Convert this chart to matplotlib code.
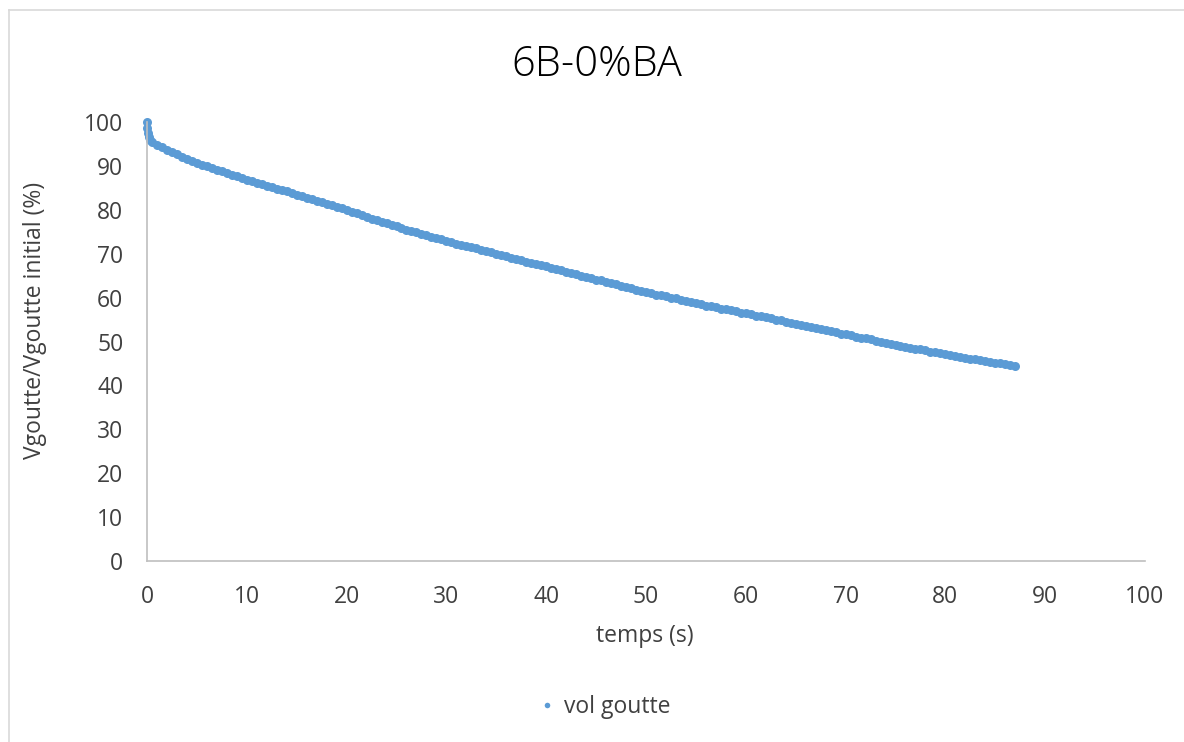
import matplotlib
matplotlib.use("Agg")
import matplotlib.pyplot as plt
from matplotlib.lines import Line2D

title = "6B-0%BA"
x_label = "temps (s)"
y_label = "Vgoutte/Vgoutte initial (%)"
series_name = "vol goutte"

time_s = [0, 0.05, 0.1, 0.2, 0.3,
          0.5, 1.0, 1.5, 2.0, 2.5, 3.0, 3.5, 4.0, 4.5, 5.0, 5.5, 6.0, 6.5, 7.0, 7.5, 8.0,
          8.5, 9.0, 9.5, 10.0, 10.5, 11.0, 11.5, 12.0, 12.5, 13.0, 13.5, 14.0, 14.5, 15.0,
          15.5, 16.0, 16.5, 17.0, 17.5, 18.0, 18.5, 19.0, 19.5, 20.0, 20.5, 21.0, 21.5, 22.0,
          22.5, 23.0, 23.5, 24.0, 24.5, 25.0, 25.5, 26.0, 26.5, 27.0, 27.5, 28.0, 28.5, 29.0,
          29.5, 30.0, 30.5, 31.0, 31.5, 32.0, 32.5, 33.0, 33.5, 34.0, 34.5, 35.0, 35.5, 36.0,
          36.5, 37.0, 37.5, 38.0, 38.5, 39.0, 39.5, 40.0, 40.5, 41.0, 41.5, 42.0, 42.5, 43.0,
          43.5, 44.0, 44.5, 45.0, 45.5, 46.0, 46.5, 47.0, 47.5, 48.0, 48.5, 49.0, 49.5, 50.0,
          50.5, 51.0, 51.5, 52.0, 52.5, 53.0, 53.5, 54.0, 54.5, 55.0, 55.5, 56.0, 56.5, 57.0,
          57.5, 58.0, 58.5, 59.0, 59.5, 60.0, 60.5, 61.0, 61.5, 62.0, 62.5, 63.0, 63.5, 64.0,
          64.5, 65.0, 65.5, 66.0, 66.5, 67.0, 67.5, 68.0, 68.5, 69.0, 69.5, 70.0, 70.5, 71.0,
          71.5, 72.0, 72.5, 73.0, 73.5, 74.0, 74.5, 75.0, 75.5, 76.0, 76.5, 77.0, 77.5, 78.0,
          78.5, 79.0, 79.5, 80.0, 80.5, 81.0, 81.5, 82.0, 82.5, 83.0, 83.5, 84.0, 84.5, 85.0,
          85.5, 86.0, 86.5, 87.0]

vol_pct = [100.0, 98.6, 97.5, 96.5, 96.0,
           95.5, 94.8, 94.2, 93.6, 93.1, 92.6, 92.1, 91.6, 91.1, 90.7, 90.3, 89.9, 89.5, 89.1, 88.8, 88.4,
           88.0, 87.7, 87.3, 86.9, 86.6, 86.2, 85.9, 85.5, 85.2, 84.8, 84.5, 84.2, 83.8, 83.4,
           83.1, 82.7, 82.4, 82.0, 81.7, 81.3, 81.0, 80.6, 80.3, 79.9, 79.5, 79.2, 78.8, 78.4,
           78.0, 77.7, 77.3, 76.9, 76.6, 76.2, 75.9, 75.5, 75.2, 74.9, 74.6, 74.2, 73.9, 73.6,
           73.3, 72.9, 72.6, 72.3, 72.0, 71.7, 71.5, 71.2, 70.95, 70.6, 70.3, 70.0, 69.7, 69.4,
           69.1, 68.8, 68.5, 68.2, 67.9, 67.7, 67.4, 67.1, 66.8, 66.5, 66.2, 65.9, 65.6, 65.3,
           65.0, 64.7, 64.4, 64.1, 63.9, 63.6, 63.3, 63.0, 62.7, 62.4, 62.1, 61.8, 61.5, 61.2,
           61.0, 60.7, 60.5, 60.3, 60.0, 59.8, 59.5, 59.3, 59.0, 58.7, 58.5, 58.2, 58.0, 57.8,
           57.5, 57.3, 57.1, 56.9, 56.6, 56.4, 56.2, 55.9, 55.7, 55.5, 55.3, 55.0, 54.8, 54.5,
           54.3, 54.0, 53.8, 53.5, 53.3, 53.0, 52.8, 52.6, 52.3, 52.1, 51.8, 51.6, 51.4, 51.1,
           50.9, 50.7, 50.5, 50.2, 50.0, 49.7, 49.5, 49.3, 49.0, 48.8, 48.6, 48.4, 48.2, 48.0,
           47.7, 47.5, 47.3, 47.1, 46.9, 46.7, 46.5, 46.3, 46.1, 46.0, 45.8, 45.6, 45.4, 45.2,
           45.0, 44.8, 44.6, 44.4]

x_ticks = [0, 10, 20, 30, 40, 50, 60, 70, 80, 90, 100]
y_ticks = [0, 10, 20, 30, 40, 50, 60, 70, 80, 90, 100]

color = "#5b9bd5"
text_color = "#404040"
fs = 16.5
plt.rcParams['font.family'] = ['Open Sans', 'DejaVu Sans']

W, H = 1184, 742
fig = plt.figure(figsize=(W / 100, H / 100), dpi=100)
ax = fig.add_axes([147 / W, 1 - 561 / H, (1145 - 147) / W, (561 - 122) / H])

ax.plot(time_s, vol_pct, linestyle='none', marker='o', markersize=6.5,
        color=color, markeredgewidth=0, label=series_name, clip_on=False)

ax.set_xlim(0, 100)
ax.set_ylim(0, 100)
ax.set_xticks(x_ticks)
ax.set_yticks(y_ticks)
ax.tick_params(length=0, labelsize=fs, labelcolor=text_color)
ax.tick_params(axis='x', pad=17)
ax.tick_params(axis='y', pad=17)
for s in ['top', 'right']:
    ax.spines[s].set_visible(False)
for s in ['left', 'bottom']:
    ax.spines[s].set_color('#bfbfbf')
    ax.spines[s].set_linewidth(1.2)

fig.text(597 / W, 1 - 65 / H, title, ha='center', va='center', fontsize=30,
         fontweight='light', color='black')
fig.text(645 / W, 1 - 636 / H, x_label, ha='center', va='center', fontsize=fs,
         color=text_color)
fig.text(35 / W, 1 - 320 / H, y_label, ha='center', va='center', fontsize=fs,
         color=text_color, rotation=90)

handle = Line2D([], [], linestyle='none', marker='o', markersize=4, color=color, markeredgewidth=0)
fig.legend([handle], [series_name], loc='center', bbox_to_anchor=(603 / W, 1 - 707 / H),
           frameon=False, prop={'size': fs}, handletextpad=0.2,
           handlelength=1.0, labelcolor=text_color)

# outer chart border (left and top visible)
fig.add_artist(Line2D([9 / W, 9 / W], [0, 1 - 10 / H], color='#d9d9d9', lw=1.2,
                      transform=fig.transFigure))
fig.add_artist(Line2D([9 / W, 1], [1 - 10 / H, 1 - 10 / H], color='#d9d9d9', lw=1.2,
                      transform=fig.transFigure))

fig.savefig("out.png", dpi=100, facecolor='white')
